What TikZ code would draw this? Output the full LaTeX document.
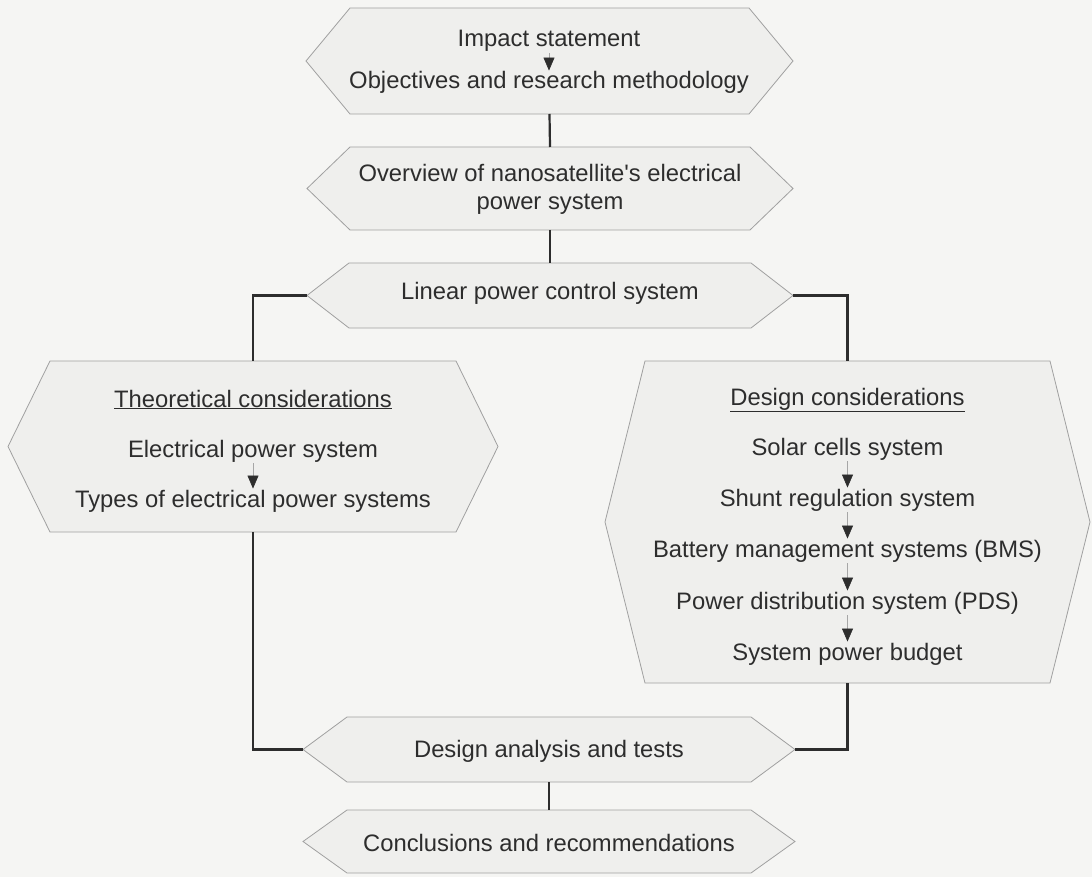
\documentclass[tikz,border=0pt]{standalone}
\usepackage{fontspec}
\setmainfont{Liberation Sans}
\usetikzlibrary{arrows.meta,calc}
\definecolor{bgcol}{RGB}{245,245,243}
\definecolor{hexfillcol}{RGB}{239,239,237}
\definecolor{hexlinecol}{RGB}{160,160,160}
\definecolor{inkcol}{RGB}{45,45,45}
\newcommand\hexpath[2]{%
  \draw[hexborder] (#1.west) -- ([xshift=#2]#1.north west) -- ([xshift=-#2]#1.north east) -- (#1.east) -- ([xshift=-#2]#1.south east) -- ([xshift=#2]#1.south west) -- cycle;}
\begin{document}
\begin{tikzpicture}[x=1pt,y=-1pt,
  frame/.style={rectangle, draw=none, inner sep=0pt, outer sep=0pt},
  hexborder/.style={draw=hexlinecol, line width=0.8pt, fill=hexfillcol},
  txt/.style={inner sep=1pt, text=inkcol, font=\fontsize{23.8}{28.5}\selectfont},
  conn/.style={draw=inkcol, line width=2.2pt},
  sarrow/.style={draw=gray!70, line width=0.6pt, -{Triangle[length=13pt,width=11pt,color=inkcol]}}]
\fill[bgcol] (0,0) rectangle (1092,877);
\useasboundingbox (0,0) rectangle (1092,877);
% frames
\node[frame, minimum width=487pt, minimum height=106pt] (top) at (549.5,61) {};
\node[frame, minimum width=486pt, minimum height=83pt] (over) at (550,188.5) {};
\node[frame, minimum width=486pt, minimum height=65pt] (lin) at (550,295.5) {};
\node[frame, minimum width=490pt, minimum height=171pt] (theo) at (253,446.5) {};
\node[frame, minimum width=485pt, minimum height=322pt] (des) at (847.5,522) {};
\node[frame, minimum width=492pt, minimum height=65pt] (ana) at (549,749.5) {};
\node[frame, minimum width=492pt, minimum height=63pt] (conc) at (549,841.5) {};
% hexagons
\hexpath{top}{44pt}
\hexpath{over}{43pt}
\hexpath{lin}{42pt}
\hexpath{theo}{42pt}
\hexpath{des}{40pt}
\hexpath{ana}{44pt}
\hexpath{conc}{44pt}
% connectors
\draw[conn] (top.south) -- (over.north);
\draw[conn] (over.south) -- (lin.north);
\draw[conn] (lin.west) -| (theo.north);
\draw[conn] (lin.east) -| (des.north);
\draw[conn] (theo.south) |- (ana.west);
\draw[conn] (des.south) |- (ana.east);
\draw[conn] (ana.south) -- (conc.north);
% texts
\node[txt, anchor=base] (t1) at (549,47) {Impact statement};
\node[txt, anchor=base] (t2) at (549,89) {Objectives and research methodology};
\node[txt, anchor=base] (t3) at (550,182) {Overview of nanosatellite\textquotesingle s electrical};
\node[txt, anchor=base] (t3b) at (550,210) {power system};
\node[txt, anchor=base] (t4) at (550,299) {Linear power control system};
\node[txt, anchor=base] (l0) at (253,407) {\underline{Theoretical considerations}};
\node[txt, anchor=base] (l1) at (253,457) {Electrical power system};
\node[txt, anchor=base] (l2) at (253,507) {Types of electrical power systems};
\node[txt, anchor=base] (r0) at (847.5,405) {\underline{Design considerations}};
\node[txt, anchor=base] (r1) at (847.5,455) {Solar cells system};
\node[txt, anchor=base] (r2) at (847.5,506) {Shunt regulation system};
\node[txt, anchor=base] (r3) at (847.5,557) {Battery management systems (BMS)};
\node[txt, anchor=base] (r4) at (847.5,609) {Power distribution system (PDS)};
\node[txt, anchor=base] (r5) at (847.5,660) {System power budget};
\node[txt, anchor=base] (t5) at (549,757) {Design analysis and tests};
\node[txt, anchor=base] (t6) at (549,851) {Conclusions and recommendations};
% small arrows
\draw[sarrow] (t1.south) -- (t2.north);
\draw[sarrow] (l1.south) -- (l2.north);
\draw[sarrow] (r1.south) -- (r2.north);
\draw[sarrow] (r2.south) -- (r3.north);
\draw[sarrow] (r3.south) -- (r4.north);
\draw[sarrow] (r4.south) -- (r5.north);
\end{tikzpicture}
\end{document}
